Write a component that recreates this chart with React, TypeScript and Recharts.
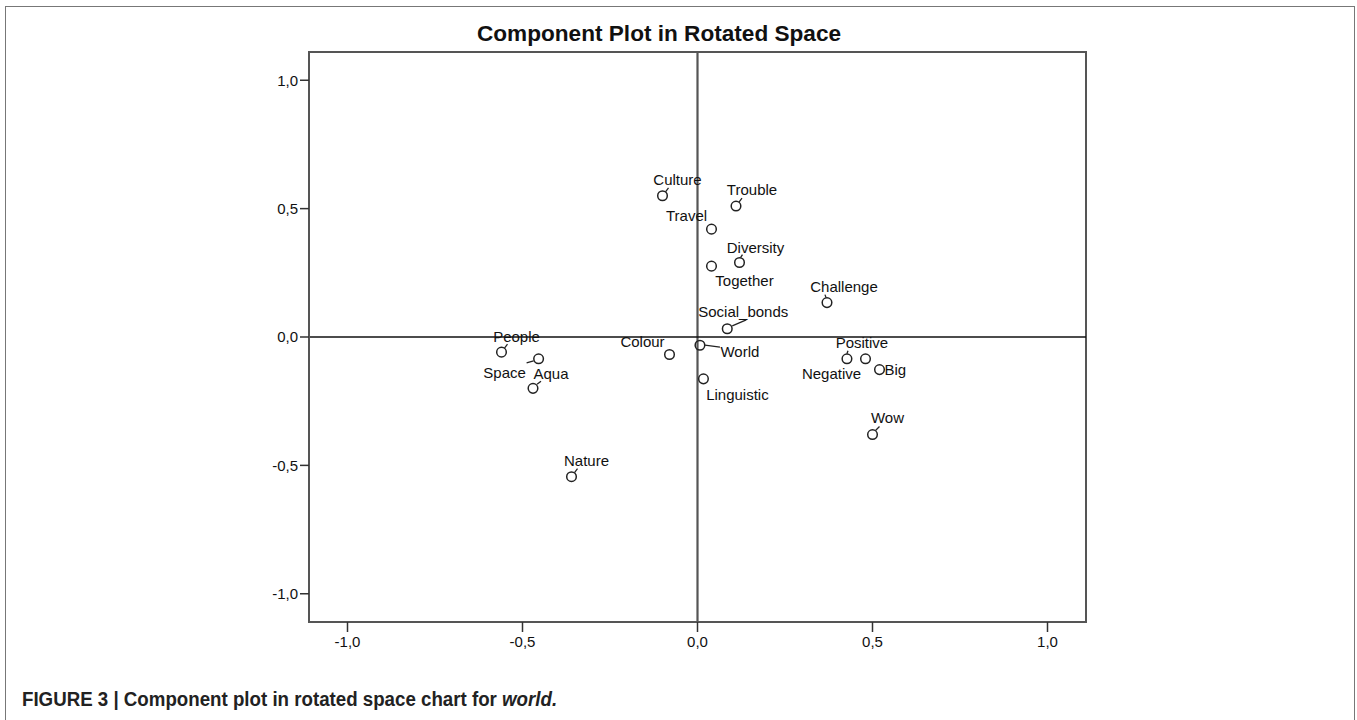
import React from 'react';
import { ScatterChart, Scatter, XAxis, YAxis, ReferenceLine, ReferenceArea } from 'recharts';

const componentNames = ['Culture', 'Trouble', 'Travel', 'Diversity', 'Together', 'Challenge', 'Social_bonds', 'World', 'Linguistic', 'Colour', 'People', 'Space', 'Aqua', 'Nature', 'Positive', 'Negative', 'Big', 'Wow'];
const component1 = [-0.10, 0.11, 0.04, 0.12, 0.04, 0.37, 0.085, 0.007, 0.017, -0.08, -0.56, -0.454, -0.47, -0.36, 0.427, 0.48, 0.52, 0.50];
const component2 = [0.55, 0.51, 0.42, 0.29, 0.276, 0.134, 0.032, -0.032, -0.163, -0.068, -0.059, -0.085, -0.20, -0.544, -0.085, -0.085, -0.127, -0.38];
const axisTicks = [-1, -0.5, 0, 0.5, 1];
const axisDomain: [number, number] = [-1.11, 1.11];

const data = componentNames.map((name, i) => ({ name, x: component1[i], y: component2[i] }));

type LabelStyle = { dx: number; dy: number; anchor?: 'start' | 'middle' | 'end'; leader?: [number, number, number, number] };
const labelStyles: Record<string, LabelStyle> = {
  Culture: { dx: 15, dy: -16, leader: [3, -4, 6, -8] },
  Trouble: { dx: 16, dy: -17, leader: [3, -4, 6, -8] },
  Travel: { dx: -25, dy: -14 },
  Diversity: { dx: 16, dy: -15, leader: [1, -5, 3, -8] },
  Together: { dx: 33, dy: 14 },
  Challenge: { dx: 17, dy: -16, leader: [-1, -5, -2, -8] },
  Social_bonds: { dx: 16, dy: -17, leader: [5, -3, 19, -9] },
  World: { dx: 40, dy: 6, leader: [5, 0, 20, 2] },
  Linguistic: { dx: 34, dy: 16 },
  Colour: { dx: -27, dy: -13 },
  People: { dx: 15, dy: -16, leader: [3, -4, 6, -8] },
  Space: { dx: -34, dy: 14, leader: [-5, 2, -12, 4] },
  Aqua: { dx: 18, dy: -15, leader: [4, -4, 8, -7] },
  Nature: { dx: 15, dy: -16, leader: [3, -4, 6, -8] },
  Positive: { dx: 15, dy: -16, leader: [0, -5, 1, -8] },
  Negative: { dx: -34, dy: 15 },
  Big: { dx: 5, dy: 0, anchor: 'start' },
  Wow: { dx: 15, dy: -17, leader: [3, -4, 7, -8] },
};

const FONT = '"Liberation Sans", Arial, sans-serif';
const fmt = (v: number) => v.toFixed(1).replace('.', ',');

const PointShape = (props: any) => {
  const { cx, cy, payload } = props;
  if (cx == null || cy == null) return null;
  const s = labelStyles[payload.name] || { dx: 15, dy: -16 };
  return (
    <g>
      <circle cx={cx} cy={cy} r={4.8} fill="none" stroke="#222" strokeWidth={1.5} />
      {s.leader && (
        <line x1={cx + s.leader[0]} y1={cy + s.leader[1]} x2={cx + s.leader[2]} y2={cy + s.leader[3]} stroke="#222" strokeWidth={1.3} />
      )}
      <text x={cx + s.dx} y={cy + s.dy} textAnchor={s.anchor || 'middle'} dominantBaseline="central" fontFamily={FONT} fontSize={15} fill="#111">
        {payload.name}
      </text>
    </g>
  );
};

export default function App() {
  return (
    <div style={{ position: 'absolute', left: 0, top: 0, width: 1357, height: 720, background: '#fff', overflow: 'hidden' }}>
      <div style={{ position: 'absolute', left: 5, top: 6, width: 1348, height: 730, border: '1.5px solid #777' }} />
      <div style={{ position: 'absolute', left: 477, top: 21, fontFamily: FONT, fontWeight: 'bold', fontSize: 22.6, lineHeight: '26px', color: '#111', whiteSpace: 'nowrap' }}>
        Component Plot in Rotated Space
      </div>
      <div style={{ position: 'absolute', left: 0, top: 0 }}>
        <ScatterChart width={1357} height={720} margin={{ top: 52, right: 271, left: 249, bottom: 58 }}>
          <XAxis
            type="number"
            dataKey="x"
            domain={axisDomain}
            ticks={axisTicks}
            allowDataOverflow
            tickFormatter={fmt}
            height={40}
            tickSize={10}
            tickMargin={4}
            axisLine={{ stroke: '#555', strokeWidth: 2 }}
            tickLine={{ stroke: '#333', strokeWidth: 1.5 }}
            tick={{ fill: '#111', fontSize: 15, fontFamily: FONT }}
          />
          <YAxis
            type="number"
            dataKey="y"
            domain={axisDomain}
            ticks={axisTicks}
            allowDataOverflow
            tickFormatter={fmt}
            width={60}
            tickSize={9}
            tickMargin={2}
            axisLine={{ stroke: '#555', strokeWidth: 2 }}
            tickLine={{ stroke: '#333', strokeWidth: 1.5 }}
            tick={{ fill: '#111', fontSize: 15, fontFamily: FONT }}
          />
          <ReferenceArea x1={axisDomain[0]} x2={axisDomain[1]} y1={axisDomain[0]} y2={axisDomain[1]} fill="none" fillOpacity={0} stroke="#555" strokeWidth={2} ifOverflow="visible" />
          <ReferenceLine x={0} stroke="#555" strokeWidth={2.2} />
          <ReferenceLine y={0} stroke="#111" strokeWidth={1.3} />
          <Scatter data={data} shape={PointShape} isAnimationActive={false} />
        </ScatterChart>
      </div>
      <div style={{ position: 'absolute', left: 22, top: 686, fontFamily: FONT, fontWeight: 'bold', fontSize: 20, lineHeight: '26px', color: '#222', whiteSpace: 'nowrap', transform: 'scaleX(0.935)', transformOrigin: 'left center' }}>
        FIGURE 3 | Component plot in rotated space chart for <i>world.</i>
      </div>
    </div>
  );
}
